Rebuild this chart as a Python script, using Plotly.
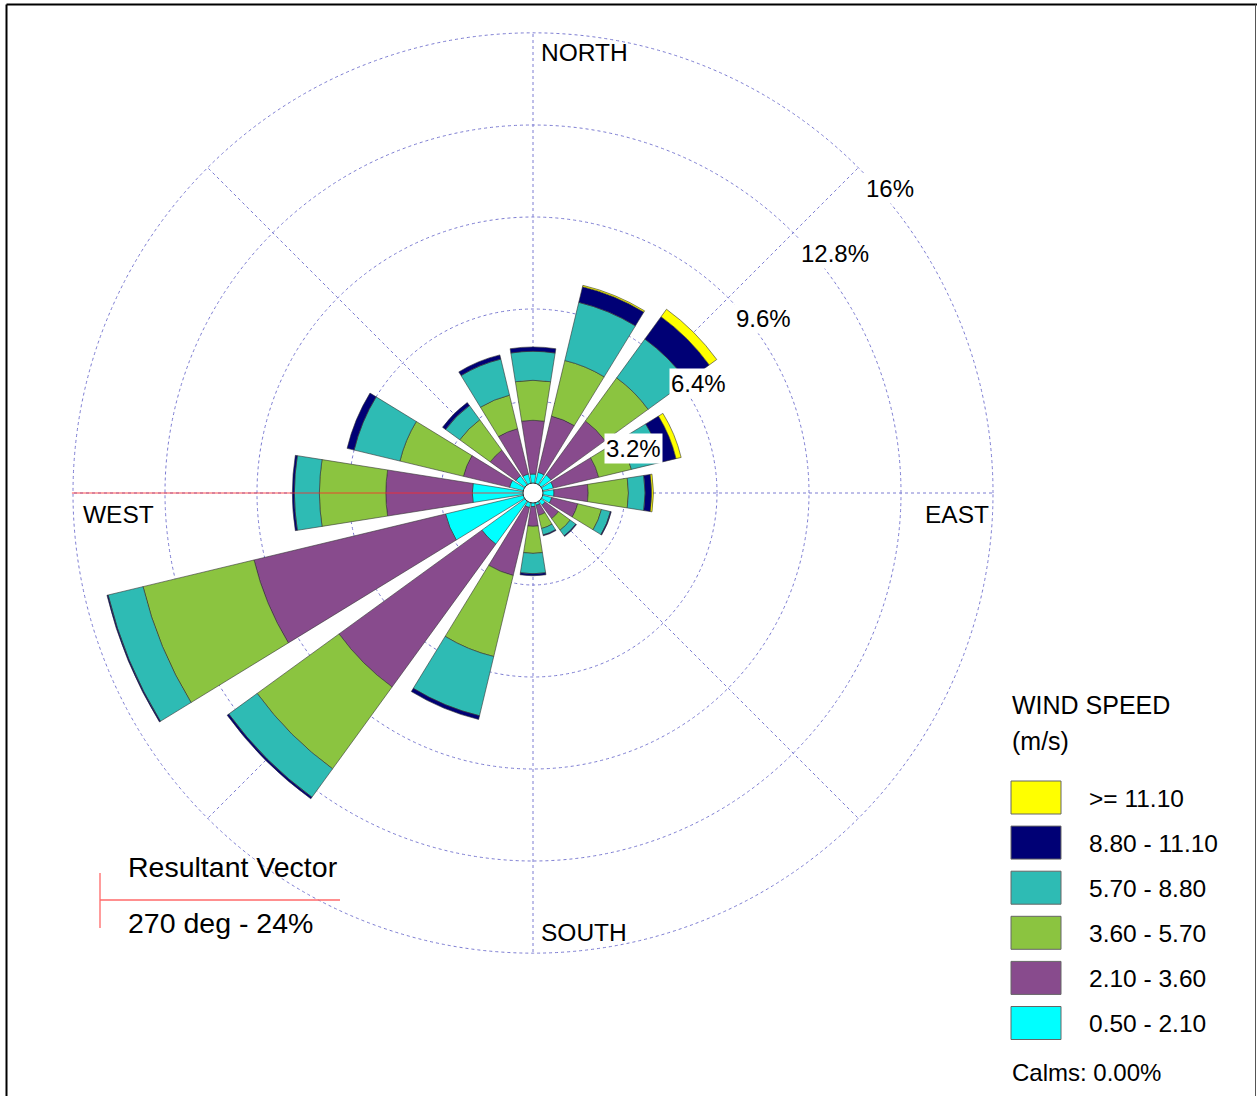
import plotly.graph_objects as go

# ---------------- data ----------------
directions = ["N", "NNE", "NE", "ENE", "E", "ESE", "SE", "SSE",
              "S", "SSW", "SW", "WSW", "W", "WNW", "NW", "NNW"]
dir_angles = [0, 22.5, 45, 67.5, 90, 112.5, 135, 157.5,
              180, 202.5, 225, 247.5, 270, 292.5, 315, 337.5]

speed_bins = ["0.50 - 2.10", "2.10 - 3.60", "3.60 - 5.70",
              "5.70 - 8.80", "8.80 - 11.10", ">= 11.10"]
bin_colors = ["#00FFFF", "#884B8D", "#8BC440", "#2EBBB4", "#000075", "#FFFF00"]

# frequency (%) per direction for each speed class
freq_0_5_2_1 = [0.66, 0.74, 0.78, 0.73, 0.73, 0.67, 0.53, 0.44,
                0.47, 0.52, 2.20, 3.13, 2.11, 0.84, 0.74, 0.68]
freq_2_1_3_6 = [1.87, 2.01, 2.32, 1.62, 1.19, 0.93, 0.57, 0.36,
                0.69, 2.43, 6.14, 6.85, 3.01, 1.65, 1.10, 1.62]
freq_3_6_5_7 = [1.39, 1.99, 1.85, 1.17, 1.40, 0.85, 0.50, 0.47,
                0.94, 2.90, 3.52, 3.97, 2.31, 2.27, 1.31, 1.20]
freq_5_7_8_8 = [1.01, 2.08, 1.67, 1.08, 0.58, 0.32, 0.24, 0.23,
                0.71, 2.12, 1.22, 1.25, 0.87, 1.64, 0.61, 1.29]
freq_8_8_11_1 = [0.15, 0.56, 0.96, 0.52, 0.23, 0.03, 0.03, 0.03,
                 0.07, 0.13, 0.07, 0.04, 0.07, 0.25, 0.13, 0.15]
freq_ge_11_1 = [0.00, 0.05, 0.32, 0.18, 0.06, 0.00, 0.00, 0.00,
                0.00, 0.00, 0.00, 0.00, 0.00, 0.00, 0.00, 0.00]

radial_ticks = [3.2, 6.4, 9.6, 12.8, 16]
radial_tick_labels = ["3.2%", "6.4%", "9.6%", "12.8%", "16%"]
compass_labels = ["NORTH", "EAST", "SOUTH", "WEST"]

resultant_dir = 270
resultant_text = ["Resultant Vector", "270 deg - 24%"]
calms_text = "Calms: 0.00%"
legend_title = ["WIND SPEED", "(m/s)"]

# ---------------- layout helpers ----------------
W, H = 1257, 1096
CX, CY, R16 = 533, 493, 460       # pixel radius of the 16 % ring
RMAX = 16
RANGE_MAX = 16.05                  # a touch beyond 16 so the outer ring is drawn
R = R16 * RANGE_MAX / RMAX         # pixel radius of the polar domain


def px(x):
    return x / W


def py(y):
    return 1 - y / H


FONT = "Liberation Sans, Arial, sans-serif"
GRID = "#7c7cd2"

fig = go.Figure()

series = [freq_0_5_2_1, freq_2_1_3_6, freq_3_6_5_7,
          freq_5_7_8_8, freq_8_8_11_1, freq_ge_11_1]
for name, vals, col in zip(speed_bins, series, bin_colors):
    fig.add_trace(go.Barpolar(
        r=vals, theta=dir_angles, width=[18] * len(dir_angles),
        name=name, marker=dict(color=col, line=dict(color="rgba(50,50,50,0.85)", width=0.7)),
        showlegend=False, hoverinfo="skip"))

# resultant vector line
fig.add_trace(go.Scatterpolar(
    r=[0, RANGE_MAX], theta=[resultant_dir, resultant_dir], mode="lines",
    line=dict(color="rgba(255,40,40,0.8)", width=1), showlegend=False, hoverinfo="skip"))

fig.update_layout(
    width=W, height=H,
    margin=dict(l=0, r=0, t=0, b=0),
    paper_bgcolor="white",
    font=dict(family=FONT, color="black"),
    polar=dict(
        domain=dict(x=[px(CX - R), px(CX + R)], y=[py(CY + R), py(CY - R)]),
        bgcolor="white",
        barmode="stack",
        angularaxis=dict(rotation=90, direction="clockwise",
                         tickvals=[0, 45, 90, 135, 180, 225, 270, 315],
                         showticklabels=False, ticks="", showline=False,
                         gridcolor=GRID, gridwidth=1, griddash="dot"),
        radialaxis=dict(range=[0, RANGE_MAX], tickvals=radial_ticks, showticklabels=False,
                        ticks="", showline=False, gridcolor=GRID, gridwidth=1,
                        griddash="dot"),
    ),
)

annotations = []
shapes = []

# radial tick labels along NE spoke
for t, lab in zip(radial_ticks, radial_tick_labels):
    r = t / RANGE_MAX * R
    x = CX + r * 0.70711
    y = CY - r * 0.70711
    annotations.append(dict(x=px(x), y=py(y), xref="paper", yref="paper",
                            text=lab, showarrow=False, xanchor="left", yanchor="top",
                            xshift=6, yshift=-5, bgcolor="white", borderpad=1,
                            font=dict(size=24, family=FONT)))

# compass labels
compass_pos = {"NORTH": (539, 52), "EAST": (923, 514), "SOUTH": (539, 932), "WEST": (81, 514)}
for lab in compass_labels:
    x, y = compass_pos[lab]
    annotations.append(dict(x=px(x), y=py(y), xref="paper", yref="paper", text=lab,
                            showarrow=False, xanchor="left", yanchor="middle",
                            font=dict(size=24.5, family=FONT)))

# centre circle (calms)
shapes.append(dict(type="circle", xref="paper", yref="paper",
                   x0=px(CX - 10), x1=px(CX + 10), y0=py(CY + 10), y1=py(CY - 10),
                   fillcolor="white", line=dict(color="#333333", width=1), layer="above"))

# legend
annotations.append(dict(x=px(1010), y=py(705), xref="paper", yref="paper", text=legend_title[0],
                        showarrow=False, xanchor="left", yanchor="middle",
                        font=dict(size=25, family=FONT)))
annotations.append(dict(x=px(1010), y=py(741), xref="paper", yref="paper", text=legend_title[1],
                        showarrow=False, xanchor="left", yanchor="middle",
                        font=dict(size=25, family=FONT)))
for i, (lab, col) in enumerate(zip(reversed(speed_bins), reversed(bin_colors))):
    top = 781 + i * 45.1
    shapes.append(dict(type="rect", xref="paper", yref="paper",
                       x0=px(1011), x1=px(1061), y0=py(top + 33), y1=py(top),
                       fillcolor=col, line=dict(color="#666666", width=1)))
    annotations.append(dict(x=px(1087), y=py(top + 17), xref="paper", yref="paper", text=lab,
                            showarrow=False, xanchor="left", yanchor="middle",
                            font=dict(size=24.5, family=FONT)))
annotations.append(dict(x=px(1010), y=py(1072), xref="paper", yref="paper", text=calms_text,
                        showarrow=False, xanchor="left", yanchor="middle",
                        font=dict(size=24, family=FONT)))

# resultant vector legend
annotations.append(dict(x=px(126), y=py(867), xref="paper", yref="paper", text=resultant_text[0],
                        showarrow=False, xanchor="left", yanchor="middle",
                        font=dict(size=28.5, family=FONT)))
annotations.append(dict(x=px(126), y=py(923), xref="paper", yref="paper", text=resultant_text[1],
                        showarrow=False, xanchor="left", yanchor="middle",
                        font=dict(size=28.5, family=FONT)))
shapes.append(dict(type="line", xref="paper", yref="paper", x0=px(100), x1=px(100),
                   y0=py(873), y1=py(928), line=dict(color="#ff7b7b", width=1.5)))
shapes.append(dict(type="line", xref="paper", yref="paper", x0=px(100), x1=px(340),
                   y0=py(900), y1=py(900), line=dict(color="#ff6a6a", width=1.5)))

# frame
shapes.append(dict(type="line", xref="paper", yref="paper", x0=px(6.5), x1=px(6.5),
                   y0=py(4.5), y1=py(H), line=dict(color="black", width=2)))
shapes.append(dict(type="line", xref="paper", yref="paper", x0=px(6.5), x1=px(W),
                   y0=py(4.5), y1=py(4.5), line=dict(color="black", width=2)))
shapes.append(dict(type="line", xref="paper", yref="paper", x0=px(1255.5), x1=px(1255.5),
                   y0=py(4.5), y1=py(H), line=dict(color="#555555", width=1)))

fig.update_layout(annotations=annotations, shapes=shapes)

fig.write_html("out.html")
